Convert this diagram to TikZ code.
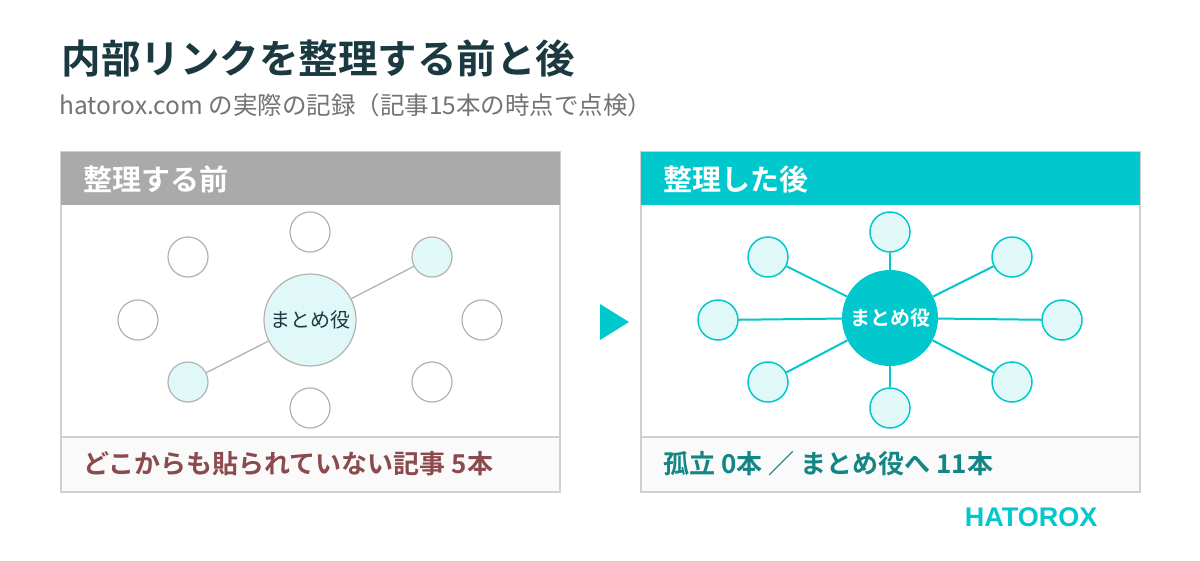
\documentclass[tikz,border=0pt]{standalone}
\usepackage{fontspec}
\setmainfont{Noto Sans CJK JP}[BoldFont={Noto Sans CJK JP Bold}]
\newfontfamily\latinf{Liberation Sans}
\definecolor{teal1}{HTML}{00C8CC}
\definecolor{lfill}{HTML}{E0F8F8}
\definecolor{hgray}{HTML}{AAAAAA}
\definecolor{bord}{HTML}{D0D0D0}
\definecolor{dtitle}{HTML}{1B3940}
\definecolor{redt}{HTML}{8B4A4D}
\definecolor{tealt}{HTML}{138585}
\begin{document}
\begin{tikzpicture}[x=1pt,y=-1pt,
  panel/.style={draw=bord,line width=1.2pt,fill=white},
  hdr/.style={anchor=west,text=white,font=\bfseries\fontsize{29}{33}\selectfont},
  ft/.style={anchor=west,font=\bfseries\fontsize{26}{30}\selectfont},
  gc/.style={circle,draw=hgray!90,line width=1.2pt,fill=white,minimum size=40pt,inner sep=0pt},
  gcl/.style={gc,fill=lfill},
  tc/.style={circle,draw=teal1,line width=1.5pt,fill=lfill,minimum size=40pt,inner sep=0pt},
  gl/.style={draw=hgray!90,line width=1.3pt},
  tl/.style={draw=teal1,line width=2pt}]
\useasboundingbox (0,0) rectangle (1200,560);
\fill[white] (0,0) rectangle (1200,560);
\node[anchor=west,text=dtitle,font=\bfseries\fontsize{39.5}{44}\selectfont] (t) at (58,58) {内部リンクを整理する前と後};
\node[anchor=west,text=black!55,font=\fontsize{24.5}{28}\selectfont] (s) at (56,105) {hatorox.com の実際の記録（記事15本の時点で点検）};
% left panel
\draw[panel] (61,152) rectangle (560,492);
\fill[hgray] (61,152) rectangle (560,205);
\fill[black!2] (62,437) rectangle (559,491);
\draw[bord,line width=1.2pt] (61,437) -- (560,437);
\node[hdr] (lh) at (80,179) {整理する前};
\node[ft,text=redt] (lf) at (80,464) {どこからも貼られていない記事 5本};
\node[gc,fill=lfill,minimum size=92pt,font=\fontsize{20}{24}\selectfont,text=dtitle] (lc) at (310,320) {まとめ役};
\node[gc] (l1) at (310,232) {};
\node[gc] (l2) at (188,257) {};
\node[gcl] (l3) at (432,257) {};
\node[gc] (l4) at (138,320) {};
\node[gc] (l5) at (482,320) {};
\node[gcl] (l6) at (188,382) {};
\node[gc] (l7) at (432,382) {};
\node[gc] (l8) at (310,408) {};
\draw[gl] (lc) -- (l3);
\draw[gl] (lc) -- (l6);
% arrow
\fill[teal1] (600,304) -- (629,322) -- (600,340) -- cycle;
% right panel
\draw[panel] (641,152) rectangle (1140,492);
\fill[teal1] (641,152) rectangle (1140,205);
\fill[black!2] (642,437) rectangle (1139,491);
\draw[bord,line width=1.2pt] (641,437) -- (1140,437);
\node[hdr] (rh) at (660,179) {整理した後};
\node[ft,text=tealt] (rf) at (660,464) {孤立 0本 ／ まとめ役へ 11本};
\node[circle,fill=teal1,minimum size=96pt,inner sep=0pt,text=white,font=\bfseries\fontsize{20}{24}\selectfont] (rc) at (890,318) {まとめ役};
\node[tc] (r1) at (890,232) {};
\node[tc] (r2) at (768,257) {};
\node[tc] (r3) at (1012,257) {};
\node[tc] (r4) at (718,320) {};
\node[tc] (r5) at (1062,320) {};
\node[tc] (r6) at (768,382) {};
\node[tc] (r7) at (1012,382) {};
\node[tc] (r8) at (890,408) {};
\foreach \i in {1,...,8} \draw[tl] (rc) -- (r\i);
\node[anchor=east,text=teal1,font=\latinf\bfseries\fontsize{27}{31}\selectfont] (hx) at (1101,517) {HATOROX};
\end{tikzpicture}
\end{document}
